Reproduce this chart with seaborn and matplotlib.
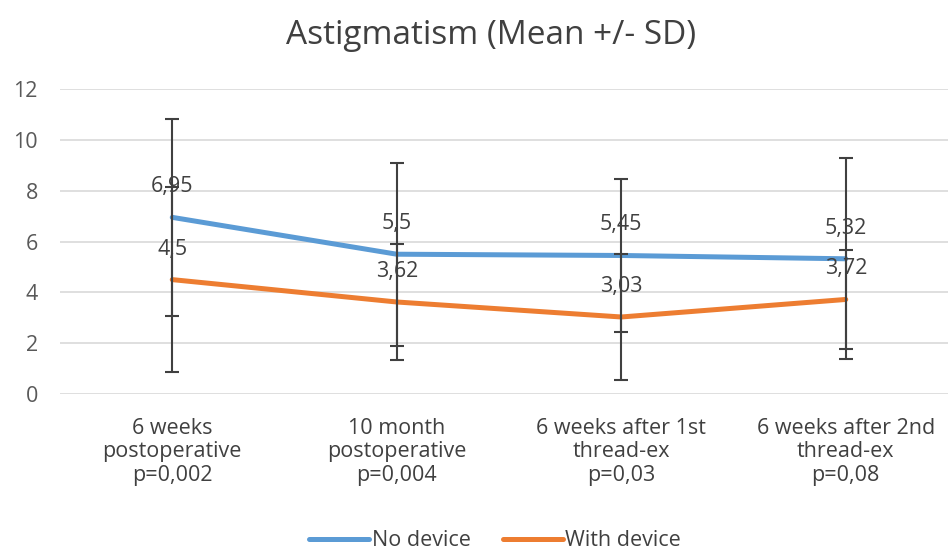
import matplotlib
matplotlib.use("Agg")
import matplotlib.pyplot as plt
from matplotlib.lines import Line2D
import seaborn as sns
import pandas as pd
import numpy as np

# chart data
categories = ["6 weeks\npostoperative\np=0,002",
              "10 month\npostoperative\np=0,004",
              "6 weeks after 1st\nthread-ex\np=0,03",
              "6 weeks after 2nd\nthread-ex\np=0,08"]
no_device = [6.95, 5.5, 5.45, 5.32]
no_device_sd = [3.88, 3.6, 3.01, 3.96]
with_device = [4.5, 3.62, 3.03, 3.72]
with_device_sd = [3.63, 2.28, 2.48, 1.95]
no_device_labels = ["6,95", "5,5", "5,45", "5,32"]
with_device_labels = ["4,5", "3,62", "3,03", "3,72"]

sns.set_style("white")
plt.rcParams['font.family'] = ['Open Sans', 'DejaVu Sans']

df = pd.DataFrame({
    'pos': list(range(len(categories))) * 2,
    'value': no_device + with_device,
    'group': ['No device'] * 4 + ['With device'] * 4,
})

fig = plt.figure(figsize=(9.48, 5.53), dpi=100)
ax = fig.add_axes([60 / 948, 159 / 553, 898 / 948, 305 / 553])

sns.lineplot(data=df, x='pos', y='value', hue='group',
             palette=['#5b9bd5', '#ed7d31'], linewidth=3.6, ax=ax,
             legend=False, zorder=3)

# SD error bars
x = np.arange(len(categories))
for vals, sd in [(no_device, no_device_sd), (with_device, with_device_sd)]:
    ax.errorbar(x, vals, yerr=sd, fmt='none', ecolor='#404040',
                elinewidth=1.5, capsize=4.7, capthick=1.5, zorder=4)

text_col = '#404040'
fs = 15.5
for vals, labs in [(no_device, no_device_labels), (with_device, with_device_labels)]:
    for xi, v, lab in zip(x, vals, labs):
        ax.annotate(lab, (xi, v), xytext=(0, 22), textcoords='offset points',
                    ha='center', va='center', fontsize=fs, color=text_col, zorder=5)

ax.set_xlim(-0.5, 3.5)
ax.set_ylim(0, 12)
ax.set_yticks(range(0, 13, 2))
ax.set_xticks(x)
ax.set_xticklabels(categories, fontsize=fs, color=text_col, linespacing=1.17)
ax.tick_params(axis='y', labelsize=fs, labelcolor='#595959', length=0, pad=16)
ax.tick_params(axis='x', length=0, pad=17)
ax.yaxis.grid(True, color='#d9d9d9', linewidth=1.2)
ax.set_axisbelow(True)
sns.despine(ax=ax, left=True, bottom=True, right=True, top=True)
ax.set_xlabel('')
ax.set_ylabel('')

fig.text(491 / 948, 1 - 36 / 553, 'Astigmatism (Mean +/- SD)', ha='center',
         va='center', fontsize=24, color=text_col)

handles = [Line2D([0], [0], color='#5b9bd5', lw=3.6),
           Line2D([0], [0], color='#ed7d31', lw=3.6)]
fig.legend(handles, ['No device', 'With device'], loc='center',
           bbox_to_anchor=(495 / 948, 1 - 541 / 553), ncol=2, frameon=False,
           fontsize=fs, handlelength=2.8, handletextpad=0.1, columnspacing=1.5,
           labelcolor=text_col)

fig.savefig('out.png', dpi=100)
